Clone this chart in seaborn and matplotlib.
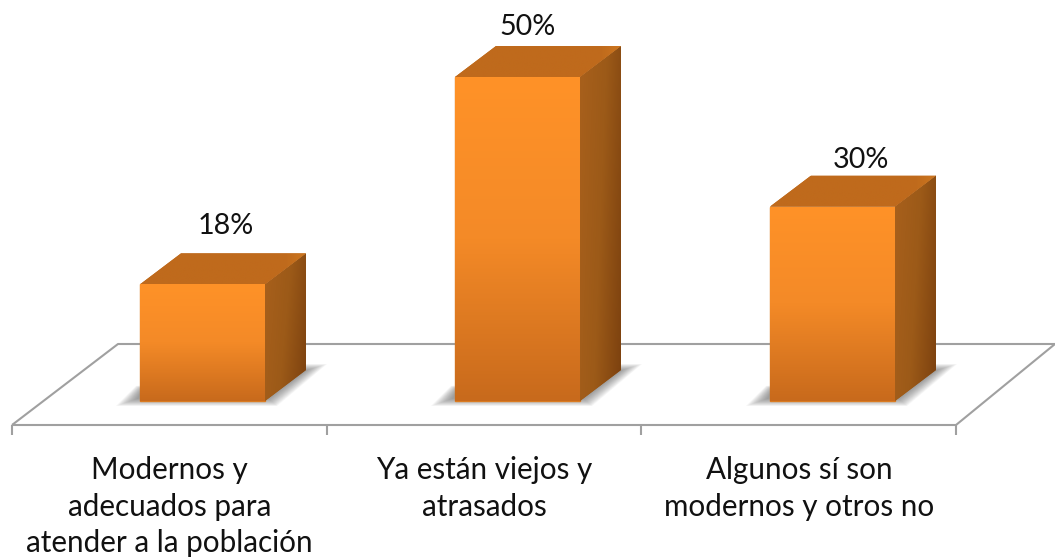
# Encuesta: opinion sobre los equipos, columnas 3D con seaborn
import numpy as np
import pandas as pd
import matplotlib
matplotlib.use("Agg")
import matplotlib.pyplot as plt
from matplotlib.colors import LinearSegmentedColormap
from matplotlib.patches import Polygon
import seaborn as sns

# Data
categories = ["Modernos y\nadecuados para\natender a la población",
              "Ya están viejos y\natrasados",
              "Algunos sí son\nmodernos y otros no"]
values = [18, 50, 30]
value_labels = ["18%", "50%", "30%"]

# Layout in pixels
W, H = 1055, 558
PX_PER_CAT = 315.0
PX_PER_PCT = 6.48
X0_PX = 202.5
Y0_PX = 401.0
DEPTH_X = 41 / PX_PER_CAT
DEPTH_Y = 31 / PX_PER_PCT
label_dx = [23, 10, 28]
label_gap = [61, 53, 50]

sns.set_theme(style="white")
plt.rcParams["font.family"] = ["Lato", "DejaVu Sans"]


def px(x, y):
    return (x - X0_PX) / PX_PER_CAT, (Y0_PX - y) / PX_PER_PCT


fig = plt.figure(figsize=(W / 100, H / 100), dpi=100)
ax = fig.add_axes([0, 0, 1, 1])

df = pd.DataFrame({"opcion": categories, "pct": values})
sns.barplot(data=df, x="opcion", y="pct", width=125 / PX_PER_CAT,
            color="#E8832A", saturation=1, ax=ax, zorder=3)

front_cmap = LinearSegmentedColormap.from_list("front", ["#FF9228", "#F48A27", "#C86A1C"])
side_cmap = LinearSegmentedColormap.from_list("side", ["#A8601C", "#9C5A18", "#7C410F"])
top_cmap = LinearSegmentedColormap.from_list(
    "top", [(0, "#BF6A1C"), (0.88, "#BF6A1C"), (1, "#CC761F")])
grad = np.linspace(0, 1, 200).reshape(-1, 1)
diag = np.add.outer(np.linspace(0, 0.25, 60), np.linspace(0, 0.75, 60))

# floor and ticks
line_kw = dict(color="#A0A0A0", lw=1.5, zorder=1, solid_capstyle="butt")
floor = [px(12, 425), px(956, 425), px(1055, 344), px(118, 344), px(12, 425)]
ax.plot(*zip(*floor), **line_kw)
for tx in [12, 327, 641, 956]:
    ax.plot(*zip(px(tx, 425), px(tx, 435)), **line_kw)

d = 1 / PX_PER_CAT
v = 1 / PX_PER_PCT
for i, bar in enumerate(ax.patches):
    x0, x1 = bar.get_x(), bar.get_x() + bar.get_width()
    h = bar.get_height()
    bar.set_edgecolor("#DB7C22")
    bar.set_linewidth(1.0)

    # soft shadow on the floor
    for k in range(14):
        ins = k * 1.6
        shadow = [(x0 - (24 - ins) * d, (-5 + k * 0.55) * v),
                  (x0 - (4 - ins * 0.3) * d, (15 - k * 0.3) * v),
                  (x1 + 40 * d, (37 - k * 0.5) * v),
                  (x1 + (62 - ins) * d, (37 - k * 0.5) * v),
                  (x1 + (12 - ins * 0.4) * d, (-5 + k * 0.55) * v)]
        ax.add_patch(Polygon(shadow, closed=True, fc="#3A3A3A", ec="none",
                             alpha=0.045, zorder=2))

    # front face
    im = ax.imshow(grad, extent=(x0, x1, 0, h), origin="upper", aspect="auto",
                   cmap=front_cmap, interpolation="bilinear", zorder=4)
    im.set_clip_path(bar)

    # side face
    side = Polygon([(x1, 0), (x1 + DEPTH_X, DEPTH_Y), (x1 + DEPTH_X, h + DEPTH_Y), (x1, h)],
                   closed=True, fc="#9C5A18", ec="none", zorder=3)
    ax.add_patch(side)
    im = ax.imshow(diag, extent=(x1, x1 + DEPTH_X, 0, h + DEPTH_Y), origin="upper",
                   aspect="auto", cmap=side_cmap, vmin=0, vmax=1,
                   interpolation="bilinear", zorder=3.5)
    im.set_clip_path(side)

    # top face
    top = Polygon([(x0, h), (x1, h), (x1 + DEPTH_X, h + DEPTH_Y), (x0 + DEPTH_X, h + DEPTH_Y)],
                  closed=True, fc="#BF6A1C", ec="none", zorder=3)
    ax.add_patch(top)
    im = ax.imshow(np.linspace(0, 1, 100).reshape(1, -1), extent=(x0, x1 + DEPTH_X, h, h + DEPTH_Y),
                   aspect="auto", cmap=top_cmap, interpolation="bilinear", zorder=3.5)
    im.set_clip_path(top)

    # value label
    ax.text(i + label_dx[i] * d, h + (label_gap[i] - 3) * v, value_labels[i],
            ha="center", va="center", fontsize=20.7, color="#111111", zorder=6)

    # category label
    lx, ly = px(X0_PX + i * PX_PER_CAT - 33, 456)
    ax.text(lx, ly, categories[i], ha="center", va="top", multialignment="center",
            fontsize=21.3, color="#111111", linespacing=1.38, zorder=6)

ax.set_xlim(px(0, 0)[0], px(W, 0)[0])
ax.set_ylim(px(0, H)[1], px(0, 0)[1])
ax.set_axis_off()

fig.savefig("out.png", dpi=100)
